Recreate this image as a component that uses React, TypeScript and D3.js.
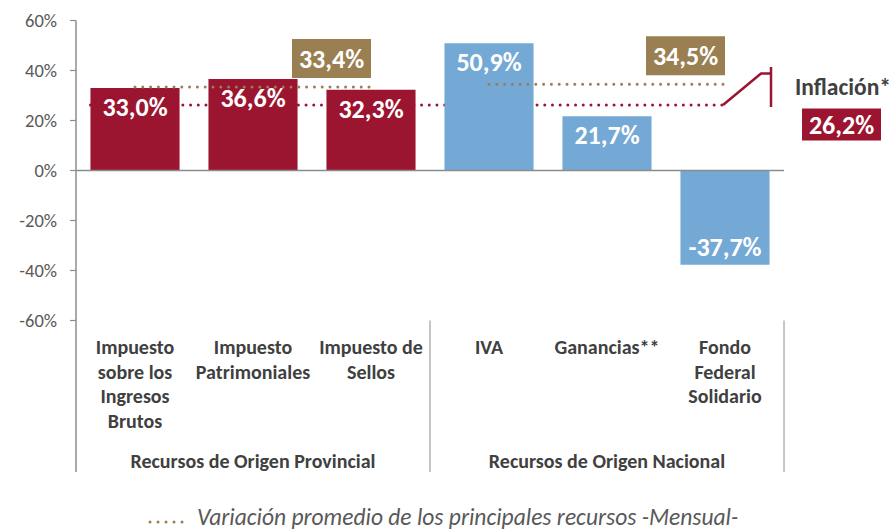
import React from "react";
import * as d3 from "d3";

const categories = [
  "Impuesto sobre los Ingresos Brutos",
  "Impuesto Patrimoniales",
  "Impuesto de Sellos",
  "IVA",
  "Ganancias**",
  "Fondo Federal Solidario",
];
const categoryLines = [
  ["Impuesto", "sobre los", "Ingresos", "Brutos"],
  ["Impuesto", "Patrimoniales"],
  ["Impuesto de", "Sellos"],
  ["IVA"],
  ["Ganancias**"],
  ["Fondo", "Federal", "Solidario"],
];
const values = [33.0, 36.6, 32.3, 50.9, 21.7, -37.7];
const groupOf = [0, 0, 0, 1, 1, 1];
const groups = ["Recursos de Origen Provincial", "Recursos de Origen Nacional"];
const groupAverages = [33.4, 34.5];
const inflation = 26.2;
const yTicks = [-60, -40, -20, 0, 20, 40, 60];
const legendLabel = "Variación promedio de los principales recursos -Mensual-";

const fmt = (v: number) => v.toFixed(1).replace(".", ",") + "%";

const RED = "#9B1530";
const BLUE = "#74A9D6";
const GOLD = "#9A7F52";
const AXIS = "#8c8c8c";
const TXT = "#404040";
const FONT = "Carlito, Lato, sans-serif";

export default function App() {
  const W = 891, H = 531;
  const left = 76, right = 784;
  const x = d3.scaleBand<string>().domain(categories).range([left, right]).paddingInner(0.245).paddingOuter(0.1225);
  const y = d3.scaleLinear().domain([-60, 60]).range([320.5, 20.5]);
  const bw = x.bandwidth();
  const cx = (i: number) => (x(categories[i]) as number) + bw / 2;
  const y0 = y(0);
  const yInf = y(inflation);
  const groupIdx = (g: number) => categories.map((_, i) => i).filter((i) => groupOf[i] === g);
  const sepX = [left, x(categories[3])! - (x.step() * 0.245) / 2, right];

  return (
    <svg width={W} height={H} style={{ display: "block", position: "absolute", left: 0, top: 0 }} fontFamily={FONT}>
      <rect width={W} height={H} fill="#fff" />
      {/* inflation dotted line (behind bars) */}
      <line x1={x(categories[0])!} x2={cx(5) - 2} y1={yInf} y2={yInf} stroke={RED} strokeWidth={3} strokeLinecap="round" strokeDasharray="0 7.7" />
      {/* bars */}
      {values.map((v, i) => (
        <rect key={i} x={x(categories[i])} width={bw} y={v >= 0 ? y(v) : y0} height={Math.abs(y(v) - y0)} fill={groupOf[i] === 0 ? RED : BLUE} />
      ))}
      {/* bar labels */}
      {values.map((v, i) => (
        <text key={"l" + i} x={cx(i)} y={v >= 0 ? y(v) + 28 : y(v) - 9} textAnchor="middle" fill="#fff" fontWeight="bold" fontSize={26}>
          {fmt(v)}
        </text>
      ))}
      {/* group averages */}
      {groupAverages.map((a, g) => {
        const idx = groupIdx(g);
        const x1 = cx(idx[0]);
        const x2 = cx(idx[idx.length - 1]);
        const ya = y(a);
        return (
          <g key={"a" + g}>
            <line x1={x1} x2={x2} y1={ya} y2={ya} stroke={GOLD} strokeWidth={3} strokeLinecap="round" strokeDasharray="0 7.8" />
            <rect x={x2 - 79} y={ya - 48} width={79} height={39} fill={GOLD} />
            <text x={x2 - 39.5} y={ya - 19.5} textAnchor="middle" fill="#fff" fontWeight="bold" fontSize={26}>
              {fmt(a)}
            </text>
          </g>
        );
      })}
      {/* inflation leader */}
      <polyline points={`${cx(5) - 2},${yInf} ${cx(5) + 36},${yInf - 31.5} ${cx(5) + 46},${yInf - 31.5}`} fill="none" stroke={RED} strokeWidth={2.5} />
      <line x1={cx(5) + 46} x2={cx(5) + 46} y1={yInf - 38} y2={yInf + 2} stroke={RED} strokeWidth={2.5} />
      <text x={843} y={yInf - 10} textAnchor="middle" fill={TXT} fontWeight="bold" fontSize={23.5}>
        Inflación*
      </text>
      <rect x={802} y={yInf + 3.5} width={79} height={32} fill={RED} />
      <text x={841.5} y={yInf + 29} textAnchor="middle" fill="#fff" fontWeight="bold" fontSize={26}>
        {fmt(inflation)}
      </text>
      {/* axes */}
      <line x1={left} x2={left} y1={y(60)} y2={472} stroke={AXIS} strokeWidth={1.5} />
      <line x1={left} x2={right} y1={y0} y2={y0} stroke={AXIS} strokeWidth={1.5} />
      {yTicks.map((t) => (
        <g key={"t" + t}>
          <line x1={left - 6} x2={left} y1={y(t)} y2={y(t)} stroke={AXIS} strokeWidth={1.2} />
          <text x={57} y={y(t)} dy="0.35em" textAnchor="end" fill="#595959" fontSize={18.5}>
            {t + "%"}
          </text>
        </g>
      ))}
      {sepX.slice(1).map((sx, i) => (
        <line key={"s" + i} x1={sx} x2={sx} y1={y(-60)} y2={472} stroke={AXIS} strokeWidth={1} />
      ))}
      {/* category labels */}
      {categoryLines.map((lines, i) => (
        <text key={"c" + i} textAnchor="middle" fill={TXT} fontWeight="bold" fontSize={20}>
          {lines.map((ln, j) => (
            <tspan key={j} x={cx(i)} y={354 + j * 24.5}>
              {ln}
            </tspan>
          ))}
        </text>
      ))}
      {groups.map((g, k) => (
        <text key={"g" + k} x={(sepX[k] + sepX[k + 1]) / 2} y={468} textAnchor="middle" fill={TXT} fontWeight="bold" fontSize={20}>
          {g}
        </text>
      ))}
      {/* legend */}
      <line x1={150} x2={190} y1={522} y2={522} stroke={GOLD} strokeWidth={3} strokeLinecap="round" strokeDasharray="0 8" />
      <text x={197} y={525} fill="#595959" fontStyle="italic" fontSize={23.5}>
        {legendLabel}
      </text>
    </svg>
  );
}
